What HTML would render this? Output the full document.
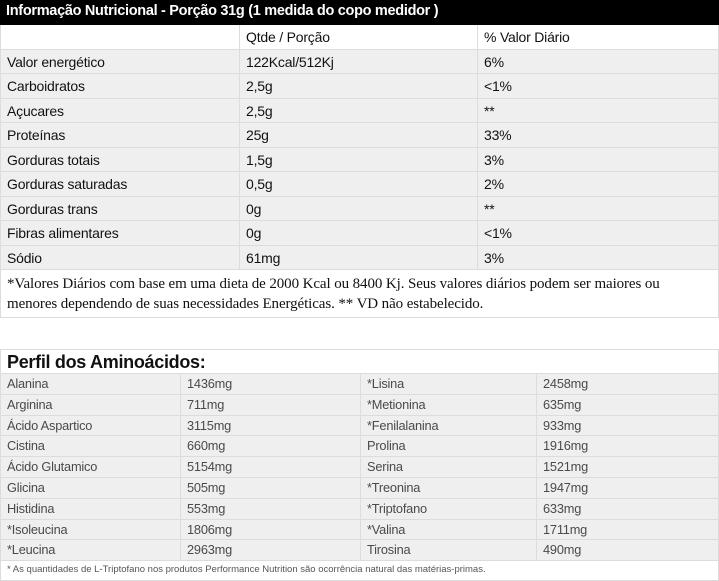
<!DOCTYPE html>
<html><head><meta charset="utf-8"><style>
*{margin:0;padding:0;box-sizing:border-box}
body{width:719px;height:581px;background:#fff;position:relative;overflow:hidden;font-family:"Liberation Sans",sans-serif}
.c{position:absolute;border-right:1px solid #dcdcdc;border-bottom:1px solid #dcdcdc;white-space:nowrap;overflow:hidden}
.t1{font-size:14px;color:#111;padding-left:6px;letter-spacing:-0.2px}
.t2{font-size:12.8px;color:#4a4a4a;padding-left:6px;letter-spacing:-0.2px}
.g{background:#efefef}
</style></head><body>
<div style="position:absolute;left:0;top:0;width:719px;height:25px;background:#000;color:#fff;font-weight:bold;font-size:14.5px;padding:3px 0 0 6px;letter-spacing:-0.3px">Informação Nutricional - Porção 31g (1 medida do copo medidor )</div>
<div id="t1"></div>
<div style="position:absolute;left:0;top:270px;width:719px;height:48px;border:1px solid #dcdcdc;border-top:none;font-family:'Liberation Serif',serif;font-size:15px;color:#111;padding:4px 16px 4px 6px;line-height:20px;letter-spacing:-0.1px">*Valores Diários com base em uma dieta de 2000 Kcal ou 8400 Kj. Seus valores diários podem ser maiores ou menores dependendo de suas necessidades Energéticas. ** VD não estabelecido.</div>
<div style="position:absolute;left:0;top:349px;width:719px;height:25px;border:1px solid #dcdcdc;font-weight:bold;font-size:18px;color:#111;padding:2px 0 0 6px;letter-spacing:-0.3px">Perfil dos Aminoácidos:</div>
<div id="t2"></div>
<div style="position:absolute;left:0;top:561px;width:719px;height:20px;border:1px solid #dcdcdc;border-top:none;font-size:9.5px;color:#555;padding:3px 6px">* As quantidades de L-Triptofano nos produtos Performance Nutrition são ocorrência natural das matérias-primas.</div>
<script>
var r1=[["","Qtde / Porção","% Valor Diário"],["Valor energético","122Kcal/512Kj","6%"],["Carboidratos","2,5g","<1%"],["Açucares","2,5g","**"],["Proteínas","25g","33%"],["Gorduras totais","1,5g","3%"],["Gorduras saturadas","0,5g","2%"],["Gorduras trans","0g","**"],["Fibras alimentares","0g","<1%"],["Sódio","61mg","3%"]];
var x1=[0,240,478,719],h="";
r1.forEach(function(r,i){var top=25+i*24.5;for(var j=0;j<3;j++){h+='<div class="c t1'+(i?' g':'')+'" style="left:'+x1[j]+'px;top:'+top+'px;width:'+(x1[j+1]-x1[j])+'px;height:24.5px;line-height:24px;'+(j==0?'border-left:1px solid #dcdcdc;':'')+'">'+r[j].replace('<','&lt;')+'</div>'}});
document.getElementById('t1').outerHTML=h;
var r2=[["Alanina","1436mg","*Lisina","2458mg"],["Arginina","711mg","*Metionina","635mg"],["Ácido Aspartico","3115mg","*Fenilalanina","933mg"],["Cistina","660mg","Prolina","1916mg"],["Ácido Glutamico","5154mg","Serina","1521mg"],["Glicina","505mg","*Treonina","1947mg"],["Histidina","553mg","*Triptofano","633mg"],["*Isoleucina","1806mg","*Valina","1711mg"],["*Leucina","2963mg","Tirosina","490mg"]];
var x2=[0,181,361,537,719];h="";
r2.forEach(function(r,i){var top=374+i*20.8;for(var j=0;j<4;j++){h+='<div class="c t2 g" style="left:'+x2[j]+'px;top:'+top+'px;width:'+(x2[j+1]-x2[j])+'px;height:20.8px;line-height:20px;'+(j==0?'border-left:1px solid #dcdcdc;':'')+'">'+r[j]+'</div>'}});
document.getElementById('t2').outerHTML=h;
</script>
</body></html>
